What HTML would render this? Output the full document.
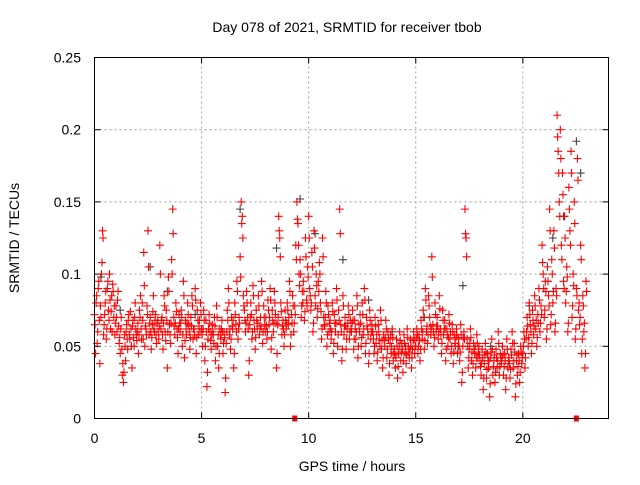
<!DOCTYPE html>
<html><head><meta charset="utf-8"><style>
body{margin:0;background:#fff;}
svg text{font-family:"Liberation Sans",sans-serif;}
</style></head><body>
<svg id="chart" width="640" height="480" viewBox="0 0 640 480">
<rect width="640" height="480" fill="#fff"/>
<text x="347" y="32" font-size="14" text-anchor="middle">Day 078 of 2021, SRMTID for receiver tbob</text>
<text x="352" y="471" font-size="14" text-anchor="middle">GPS time / hours</text>
<text transform="translate(19,238) rotate(-90)" font-size="14" text-anchor="middle">SRMTID / TECUs</text>
<g id="grid"></g><g id="ticks"></g><g id="marks"></g>
<rect x="94.5" y="57.5" width="514" height="361" fill="none" stroke="#000" stroke-width="1"/>
</svg>
<script>
const xTicks=[0,5,10,15,20];
const yTicks=[0,0.05,0.1,0.15,0.2,0.25];
const yTickLabels=["0","0.05","0.1","0.15","0.2","0.25"];
const hours=[0,1,2,3,4,5,6,7,8,9,10,11,12,13,14,15,16,17,18,19,20,21,22];
const hourValues=[
[.072,.045,.085,.060,.095,.038,.070,.108,.125,.065,.080,.055,.090,.075,.100,.062,.085,.093,.070,.058],
[.078,.060,.088,.052,.045,.070,.030,.025,.058,.040,.065,.048,.072,.055,.062,.035,.068,.050,.080,.058],
[.060,.045,.075,.085,.055,.068,.115,.050,.062,.078,.130,.058,.070,.048,.065,.085,.060,.072,.052,.068],
[.055,.120,.062,.070,.048,.085,.060,.075,.035,.098,.065,.052,.110,.145,.070,.058,.080,.062,.045,.072],
[.060,.075,.050,.095,.042,.068,.058,.080,.065,.048,.070,.085,.055,.062,.090,.045,.075,.058,.068,.080],
[.062,.050,.075,.040,.068,.022,.055,.072,.060,.048,.065,.058,.070,.040,.078,.050,.035,.062,.055,.068],
[.045,.060,.018,.052,.075,.090,.058,.048,.070,.062,.035,.080,.065,.095,.055,.070,.112,.150,.140,.085],
[.075,.060,.088,.070,.030,.065,.080,.055,.092,.068,.048,.075,.062,.085,.058,.070,.095,.052,.078,.065],
[.070,.055,.082,.065,.090,.048,.075,.060,.088,.072,.035,.065,.140,.125,.080,.058,.068,.050,.075,.062],
[.080,.065,.095,.050,.072,.085,.060,.078,.120,.150,.135,.100,.110,.070,.088,.095,.068,.125,.082,.105],
[.140,.090,.075,.115,.060,.130,.085,.100,.070,.095,.108,.080,.055,.125,.070,.065,.088,.050,.078,.060],
[.068,.055,.080,.045,.072,.060,.090,.050,.075,.145,.065,.040,.085,.058,.070,.048,.062,.078,.055,.068],
[.060,.075,.048,.068,.055,.085,.042,.065,.072,.050,.080,.058,.090,.045,.070,.062,.038,.075,.055,.065],
[.060,.045,.070,.052,.040,.065,.055,.075,.048,.035,.058,.050,.068,.042,.060,.030,.052,.045,.062,.040],
[.048,.035,.055,.028,.045,.060,.040,.052,.032,.058,.045,.038,.062,.050,.042,.055,.035,.048,.060,.045],
[.050,.062,.045,.058,.040,.068,.055,.075,.048,.090,.060,.052,.085,.070,.058,.112,.065,.050,.080,.060],
[.070,.055,.085,.062,.045,.075,.058,.068,.040,.062,.050,.072,.055,.045,.065,.038,.058,.050,.062,.045],
[.055,.040,.065,.025,.050,.060,.145,.125,.055,.035,.048,.062,.040,.030,.052,.045,.035,.058,.042,.050],
[.040,.030,.048,.020,.038,.052,.028,.045,.035,.015,.042,.055,.030,.040,.025,.048,.035,.060,.030,.045],
[.038,.050,.030,.045,.020,.055,.035,.042,.028,.048,.060,.035,.052,.015,.040,.030,.045,.025,.050,.038],
[.045,.060,.035,.055,.070,.050,.080,.065,.045,.075,.058,.085,.062,.050,.072,.090,.060,.078,.120,.100],
[.070,.095,.055,.105,.085,.145,.065,.110,.080,.130,.060,.090,.210,.185,.150,.200,.120,.170,.095,.140],
[.080,.105,.060,.160,.130,.185,.070,.100,.150,.055,.090,.180,.075,.065,.120,.045,.085,.060,.035,.095]
];
const hourValues2=[
[.065,.080,.052,.090,.068,.078,.100,.130,.058,.072,.088,.062,.095,.068,.082,.074,.060,.088,.078,.066],
[.070,.082,.064,.056,.062,.048,.038,.032,.050,.060,.055,.068,.058,.074,.050,.064,.056,.070,.062,.054],
[.066,.058,.070,.062,.080,.055,.092,.064,.058,.072,.105,.066,.060,.056,.074,.062,.068,.058,.066,.060],
[.064,.100,.068,.058,.066,.078,.054,.068,.060,.088,.058,.066,.100,.128,.064,.066,.074,.056,.062,.066],
[.066,.070,.058,.085,.054,.062,.066,.072,.060,.056,.064,.078,.062,.058,.082,.056,.068,.064,.060,.072],
[.058,.062,.068,.050,.060,.032,.062,.066,.054,.058,.060,.052,.064,.050,.070,.058,.045,.058,.062,.060],
[.052,.056,.028,.060,.068,.080,.062,.055,.064,.068,.045,.072,.060,.088,.062,.066,.098,.135,.125,.078],
[.068,.066,.080,.062,.040,.070,.072,.060,.085,.062,.056,.068,.066,.078,.064,.062,.088,.060,.070,.060],
[.064,.060,.075,.070,.082,.056,.068,.066,.080,.066,.045,.070,.130,.112,.074,.064,.062,.058,.068,.066],
[.075,.070,.088,.058,.066,.078,.066,.072,.110,.138,.120,.092,.100,.078,.080,.088,.074,.112,.078,.098],
[.125,.085,.080,.105,.066,.118,.078,.092,.076,.088,.100,.074,.062,.112,.064,.070,.080,.058,.072,.066],
[.062,.060,.074,.052,.066,.066,.082,.058,.068,.128,.060,.048,.078,.064,.064,.055,.066,.072,.060,.062],
[.066,.068,.055,.062,.060,.078,.050,.060,.066,.056,.072,.062,.082,.052,.064,.058,.045,.068,.060,.060],
[.055,.050,.064,.058,.046,.060,.050,.068,.054,.042,.054,.056,.062,.048,.055,.038,.058,.050,.056,.046],
[.044,.042,.050,.036,.050,.054,.046,.048,.040,.052,.050,.044,.056,.046,.048,.050,.042,.054,.055,.050],
[.056,.058,.050,.054,.048,.062,.060,.070,.054,.082,.064,.058,.078,.064,.062,.098,.060,.056,.072,.064],
[.064,.060,.076,.058,.052,.068,.062,.062,.048,.058,.056,.066,.060,.050,.060,.046,.052,.056,.058,.050],
[.050,.046,.058,.032,.056,.055,.128,.112,.050,.042,.052,.056,.046,.038,.048,.050,.042,.052,.046,.044],
[.036,.038,.042,.028,.044,.046,.034,.040,.040,.024,.046,.048,.036,.044,.032,.042,.040,.052,.036,.040],
[.042,.044,.036,.040,.028,.048,.040,.038,.034,.044,.052,.040,.046,.024,.044,.036,.040,.032,.046,.042],
[.050,.055,.042,.060,.064,.056,.072,.060,.052,.068,.064,.078,.068,.056,.066,.082,.066,.072,.108,.090],
[.075,.088,.062,.095,.078,.130,.072,.100,.088,.118,.066,.085,.195,.170,.140,.180,.110,.155,.090,.125],
[.088,.098,.066,.145,.120,.170,.078,.092,.135,.062,.085,.165,.080,.070,.110,.055,.078,.066,.045,.088]
];
const greyTimes=[0.3,1.2,2.6,3.4,4.7,6.8,8.5,9.6,10.3,11.6,12.8,13.9,15.4,17.2,18.5,20.3,21.4,21.9,22.5,22.7];
const greyValues=[0.098,0.075,0.105,0.088,0.072,0.145,0.118,0.152,0.128,0.110,0.082,0.060,0.070,0.092,0.050,0.078,0.125,0.140,0.192,0.170];
const zeroTimes=[9.35,22.5];
const zeroValues=[0,0];

const X0=94.5,X1=608.5,Y0=418.5,Y1=57.5;
const xs=t=>X0+(t/24)*(X1-X0);
const ys=v=>Y0-(v/0.25)*(Y0-Y1);
const NS="http://www.w3.org/2000/svg";
function mk(tag,parent){const e=document.createElementNS(NS,tag);document.getElementById(parent).appendChild(e);return e;}

xTicks.forEach(t=>{
 const x=xs(t);
 if(t>0){const g=mk('line','grid');g.setAttribute('x1',x);g.setAttribute('x2',x);g.setAttribute('y1',Y0);g.setAttribute('y2',Y1);g.setAttribute('stroke','#a0a0a0');g.setAttribute('stroke-dasharray','2,3');
 
 }
 [[Y0,Y0-6],[Y1,Y1+6]].forEach(p=>{const l=mk('line','ticks');l.setAttribute('x1',x);l.setAttribute('x2',x);l.setAttribute('y1',p[0]);l.setAttribute('y2',p[1]);l.setAttribute('stroke','#000');
 
 });
 const tx=mk('text','ticks');tx.setAttribute('x',x);tx.setAttribute('y',443);tx.setAttribute('font-size','14');tx.setAttribute('text-anchor','middle');tx.textContent=String(t);
 
 
});
yTicks.forEach((v,i)=>{
 const y=ys(v);
 if(v>0&&i<yTicks.length-1){const g=mk('line','grid');g.setAttribute('x1',X0);g.setAttribute('x2',X1);g.setAttribute('y1',y);g.setAttribute('y2',y);g.setAttribute('stroke','#a0a0a0');g.setAttribute('stroke-dasharray','2,3');
 
 }
 [[X0,X0+6],[X1,X1-6]].forEach(p=>{const l=mk('line','ticks');l.setAttribute('x1',p[0]);l.setAttribute('x2',p[1]);l.setAttribute('y1',y);l.setAttribute('y2',y);l.setAttribute('stroke','#000');
 
 });
 const tx=mk('text','ticks');tx.setAttribute('x',81);tx.setAttribute('y',y+5);tx.setAttribute('font-size','14');tx.setAttribute('text-anchor','end');tx.textContent=yTickLabels[i];
 
 
});
function plus(t,v,color,name){
 const x=xs(t),y=ys(v);
 const p=mk('path','marks');
 p.setAttribute('d',`M${x-4},${y}H${x+4}M${x},${y-4}V${y+4}`);
 p.setAttribute('stroke',color);p.setAttribute('stroke-width','1.1');
 
 
}
greyTimes.forEach((t,i)=>plus(t,greyValues[i],'#404040','grey-point'));
hours.forEach((h,hi)=>hourValues[hi].forEach((v,i)=>plus(h+i/20,v,'#ff0000','red-point')));
hours.forEach((h,hi)=>hourValues2[hi].forEach((v,i)=>plus(h+i/20+0.025,v,'#ff0000','red-point')));
zeroTimes.forEach((t,i)=>{
 const r=mk('rect','marks');r.setAttribute('x',xs(t)-2.5);r.setAttribute('y',ys(zeroValues[i])-3);r.setAttribute('width',5);r.setAttribute('height',6);r.setAttribute('fill','#ff0000');
 
 
});
</script>
</body></html>
